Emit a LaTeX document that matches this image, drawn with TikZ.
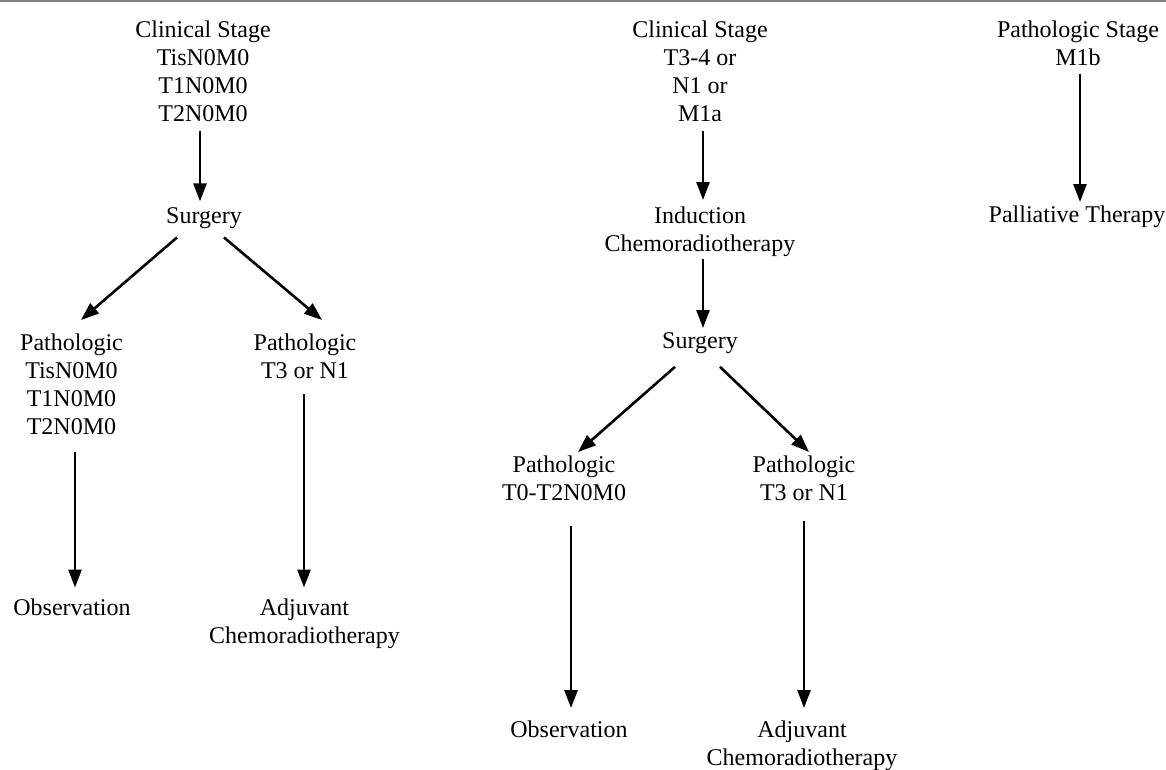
\documentclass[tikz,border=0pt]{standalone}
\usepackage{fontspec}
\setmainfont{Liberation Serif}
\usetikzlibrary{arrows.meta}
\tikzset{
  lbl/.style={anchor=north, inner sep=0pt, align=center, font=\fontsize{24}{28}\selectfont},
  arr/.style={line width=2.6pt, -{Triangle[length=18pt,width=13pt]}}
}
\begin{document}
\begin{tikzpicture}[x=1pt,y=1pt]
\useasboundingbox (0,0) rectangle (1166,-769);
\draw[gray, line width=2pt] (0,-1) -- (1166,-1);
% column 1
\node[lbl] (c1) at (203,-20.6) {Clinical Stage\\TisN0M0\\T1N0M0\\T2N0M0};
\node[lbl] (s1) at (204,-207.4) {Surgery};
\node[lbl] (p1) at (71.5,-333.6) {Pathologic\\TisN0M0\\T1N0M0\\T2N0M0};
\node[lbl] (p2) at (305,-333.6) {Pathologic\\T3 or N1};
\node[lbl] (o1) at (72,-598.6) {Observation};
\node[lbl] (a1) at (304.5,-598.6) {Adjuvant\\Chemoradiotherapy};
% column 2
\node[lbl] (c2) at (700,-20.6) {Clinical Stage\\T3-4 or\\N1 or\\M1a};
\node[lbl] (i2) at (700,-206.6) {Induction\\Chemoradiotherapy};
\node[lbl] (s2) at (700,-332.6) {Surgery};
\node[lbl] (p3) at (564,-455.6) {Pathologic\\T0-T2N0M0};
\node[lbl] (p4) at (804,-455.6) {Pathologic\\T3 or N1};
\node[lbl] (o2) at (569,-720.6) {Observation};
\node[lbl] (a2) at (802,-720.6) {Adjuvant\\Chemoradiotherapy};
% column 3
\node[lbl] (c3) at (1078,-20.6) {Pathologic Stage\\M1b};
\node[lbl] (pt) at (1077,-205.6) {Palliative Therapy};
% connectors
\draw[arr] ([shift={(-3,-9)}]c1.south) -- ([shift={(-4,6)}]s1.north);
\draw[arr] ([shift={(-27,-8.6)}]s1.south) -- ([shift={(9.5,13.6)}]p1.north);
\draw[arr] ([shift={(20,-8.6)}]s1.south) -- ([shift={(17,13.6)}]p2.north);
\draw[arr] ([shift={(3.5,-17)}]p1.south) -- ([shift={(3,11)}]o1.north);
\draw[arr] ([shift={(-1,-15.4)}]p2.south) -- ([shift={(-0.5,11)}]a1.north);
\draw[arr] ([shift={(3,-9)}]c2.south) -- ([shift={(3,6.6)}]i2.north);
\draw[arr] ([shift={(3,-2)}]i2.south) -- ([shift={(3,4.6)}]s2.north);
\draw[arr] ([shift={(-25,-12.8)}]s2.south) -- ([shift={(14,3.6)}]p3.north);
\draw[arr] ([shift={(20,-12.8)}]s2.south) -- ([shift={(5,3.6)}]p4.north);
\draw[arr] ([shift={(7,-25)}]p3.south) -- ([shift={(2,12.6)}]o2.north);
\draw[arr] ([shift={(0,-20)}]p4.south) -- ([shift={(2,12.6)}]a2.north);
\draw[arr] ([shift={(2,-8)}]c3.south) -- ([shift={(3,3.6)}]pt.north);
\end{tikzpicture}
\end{document}
